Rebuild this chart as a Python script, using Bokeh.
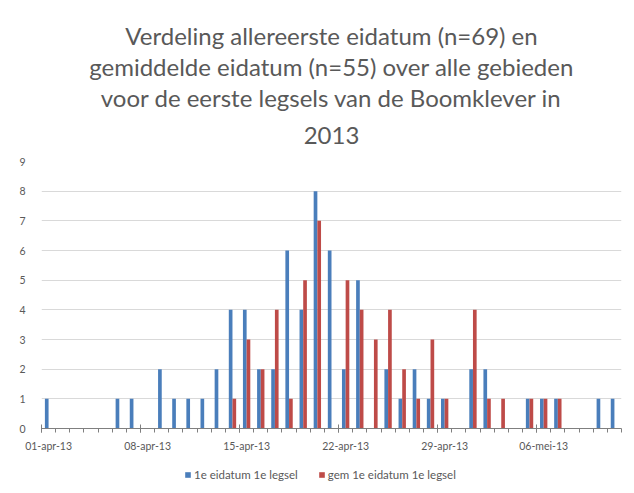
from bokeh.plotting import figure
from bokeh.layouts import column
from bokeh.models import ColumnDataSource, FixedTicker, LinearAxis, Legend, LegendItem, Range1d, Title
from bokeh.transform import dodge
from bokeh.embed import file_html
from bokeh.resources import INLINE

# day index 0 = 01-apr-13 ... 40 = 11-mei-13
days = list(range(41))
label_days = [0, 7, 14, 21, 28, 35]
day_labels = ["01-apr-13", "08-apr-13", "15-apr-13", "22-apr-13", "29-apr-13", "06-mei-13"]
eerste = [1, 0, 0, 0, 0, 1, 1, 0, 2, 1,
          1, 1, 2, 4, 4, 2, 2, 6, 4, 8,
          6, 2, 5, 0, 2, 1, 2, 1, 1, 0,
          2, 2, 0, 0, 1, 1, 1, 0, 0, 1,
          1]
gem = [0, 0, 0, 0, 0, 0, 0, 0, 0, 0,
       0, 0, 0, 1, 3, 2, 4, 1, 5, 7,
       0, 5, 4, 3, 4, 2, 1, 3, 1, 0,
       4, 1, 1, 0, 1, 1, 1, 0, 0, 0,
       0]
y_ticks = list(range(10))
series_names = ["1e eidatum 1e legsel", "gem 1e eidatum 1e legsel"]
title_lines = ["Verdeling allereerste eidatum (n=69) en",
               "gemiddelde eidatum (n=55) over alle gebieden",
               "voor de eerste legsels van de Boomklever in",
               "2013"]

FONT = "Lato"
GREY = "#595959"
BLUE = "#4a7ebb"
RED = "#be4b48"

src = ColumnDataSource(dict(day=days, eerste=eerste, gem=gem))

p = figure(width=634, height=460, output_backend="svg", toolbar_location=None,
           x_range=Range1d(-0.5, 40.5), y_range=Range1d(0, 9),
           min_border_left=41, min_border_right=13, min_border_top=161,
           min_border_bottom=32, title=None)
p.outline_line_color = None
p.background_fill_color = "white"
p.border_fill_color = "white"

# title lines: first added sits closest to the plot
for i, line in enumerate(reversed(title_lines)):
    t = Title(text=line, align="center", text_font=FONT, text_font_size="24px",
              text_font_style="normal", text_color=GREY,
              vertical_align=("top" if i == 0 else "bottom"),
              standoff=(31 if i == 0 else 0), offset=0)
    p.add_layout(t, "above")

w = 0.26
r1 = p.vbar(x=dodge("day", -w / 2, range=p.x_range), top="eerste", width=w,
            source=src, fill_color=BLUE, line_color=None)
r2 = p.vbar(x=dodge("day", w / 2, range=p.x_range), top="gem", width=w,
            source=src, fill_color=RED, line_color=None)

# y axis
p.yaxis.ticker = FixedTicker(ticks=y_ticks)
p.yaxis.axis_line_color = None
p.yaxis.major_tick_line_color = None
p.yaxis.minor_tick_line_color = None
p.yaxis.major_label_text_font = FONT
p.yaxis.major_label_text_font_size = "10.5px"
p.yaxis.major_label_text_color = GREY
p.yaxis.major_label_standoff = 10
p.ygrid.ticker = FixedTicker(ticks=y_ticks)
p.ygrid.grid_line_color = "#d9d9d9"
p.xgrid.grid_line_color = None

# x axis: tick marks on day boundaries
bticks = [d - 0.5 for d in label_days]
xa = p.xaxis[0]
xa.ticker = FixedTicker(ticks=bticks, minor_ticks=[d - 0.5 for d in range(42)])
xa.axis_line_color = "#7f7f7f"
xa.major_tick_line_color = "#7f7f7f"
xa.minor_tick_line_color = "#7f7f7f"
xa.major_tick_in = 4
xa.major_tick_out = 4
xa.minor_tick_in = 0
xa.minor_tick_out = 4
xa.major_label_overrides = {b: "" for b in bticks}
xa.major_label_standoff = 0

# x axis labels centred on days
la = LinearAxis(ticker=FixedTicker(ticks=label_days),
                major_label_overrides={d: t for d, t in zip(label_days, day_labels)})
la.axis_line_color = None
la.major_tick_line_color = None
la.minor_tick_line_color = None
la.major_label_text_font = FONT
la.major_label_text_font_size = "10.5px"
la.major_label_text_color = GREY
la.major_label_standoff = 1
p.add_layout(la, "below")

# legend strip underneath the chart (same series, bars kept out of its view)
lp = figure(width=634, height=33, output_backend="svg", toolbar_location=None,
            x_axis_location=None, y_axis_location=None,
            x_range=Range1d(-0.5, 40.5), y_range=Range1d(20, 21),
            min_border=0, min_border_left=0, min_border_right=0,
            min_border_top=0, min_border_bottom=0)
lp.outline_line_color = None
lp.grid.visible = False
l1 = lp.vbar(x="day", top="eerste", width=w, source=src, fill_color=BLUE, line_color=None)
l2 = lp.vbar(x="day", top="gem", width=w, source=src, fill_color=RED, line_color=None)
legend = Legend(items=[LegendItem(label=series_names[0], renderers=[l1]),
                       LegendItem(label=series_names[1], renderers=[l2])],
                orientation="horizontal", location=(143, 12),
                glyph_width=7, glyph_height=7, label_standoff=3, spacing=20,
                padding=2, margin=0, border_line_color=None,
                background_fill_alpha=0,
                label_text_font=FONT, label_text_font_size="11.5px",
                label_text_color=GREY)
lp.add_layout(legend, "center")

open("out.html", "w").write(file_html(column(p, lp, spacing=0), INLINE))
